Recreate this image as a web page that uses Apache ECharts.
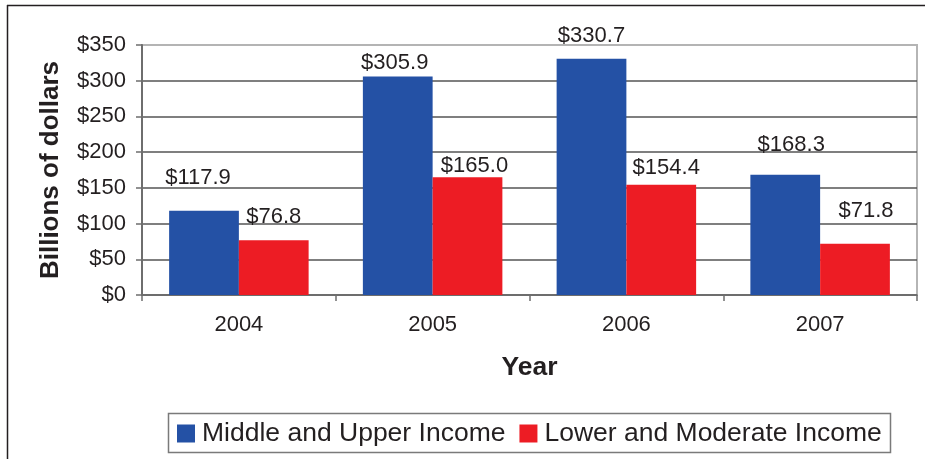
<!DOCTYPE html>
<html>
<head>
<meta charset="utf-8">
<script src="https://cdn.jsdelivr.net/npm/echarts@6/dist/echarts.min.js"></script>
<style>
html,body{margin:0;padding:0;background:#fff;}
#c{width:925px;height:459px;}
</style>
</head>
<body>
<div id="c"></div>
<script>
const years = ['2004', '2005', '2006', '2007'];
const middleUpper = [117.9, 305.9, 330.7, 168.3];
const lowerModerate = [76.8, 165.0, 154.4, 71.8];
const seriesNames = ['Middle and Upper Income', 'Lower and Moderate Income'];
const yTicks = [0, 50, 100, 150, 200, 250, 300, 350];

// label nudges (dx, dy) in pixels, matching the hand-placed labels of the reference
const middleUpperLabelNudge = [[-6, -22], [-3, -3], [0, -12], [6, -19]];
const lowerModerateLabelNudge = [[0, -12], [7, 0], [5, -6], [11, -22]];

const FONT = '"Liberation Sans", Arial, sans-serif';
const TXT = '#231f20';
const BLUE = '#2451a5';
const RED = '#ed1c24';

function build(values, nudges) {
  return values.map((v, i) => ({
    value: v,
    label: { offset: nudges[i] }
  }));
}

const chart = echarts.init(document.getElementById('c'), null, { renderer: 'canvas' });
const gridColors = yTicks.map((t, i) => i === yTicks.length - 1 ? '#b5b5b5' : '#555555');

chart.setOption({
  animation: false,
  backgroundColor: '#ffffff',
  textStyle: { fontFamily: FONT },
  grid: {
    left: 142, top: 45, right: 8, bottom: 164,
    show: true, borderColor: '#b5b5b5', borderWidth: 2, backgroundColor: 'transparent'
  },
  legend: {
    data: seriesNames,
    left: 177,
    top: 420,
    padding: 0,
    itemWidth: 18,
    itemHeight: 18,
    itemGap: 14,
    icon: 'rect',
    textStyle: { fontFamily: FONT, fontSize: 26.5, color: TXT, padding: [0, 0, 0, 2] }
  },
  xAxis: {
    type: 'category',
    data: years,
    boundaryGap: true,
    name: 'Year',
    nameLocation: 'middle',
    nameGap: 59,
    nameTextStyle: { fontFamily: FONT, fontSize: 26.5, fontWeight: 'bold', color: TXT },
    axisLine: { show: true, lineStyle: { color: '#6e6e6e', width: 1.5 } },
    axisTick: { show: true, length: 6, lineStyle: { color: '#6e6e6e', width: 1.5 } },
    axisLabel: { fontFamily: FONT, fontSize: 22, color: TXT, margin: 19 },
    splitLine: { show: false }
  },
  yAxis: {
    type: 'value',
    min: 0,
    max: 350,
    interval: 50,
    name: 'Billions of dollars',
    nameLocation: 'middle',
    nameGap: 78,
    nameRotate: 90,
    nameTextStyle: { fontFamily: FONT, fontSize: 26, fontWeight: 'bold', color: TXT },
    axisLine: { show: true, lineStyle: { color: '#6e6e6e', width: 2 } },
    axisTick: { show: true, length: 6, lineStyle: { color: '#6e6e6e', width: 1.5 } },
    axisLabel: {
      fontFamily: FONT, fontSize: 22, color: TXT, margin: 16,
      formatter: v => '$' + v
    },
    splitLine: { show: true, lineStyle: { color: gridColors, width: 1.5 } }
  },
  series: [
    {
      name: seriesNames[0],
      type: 'bar',
      data: build(middleUpper, middleUpperLabelNudge),
      barGap: '0%',
      barCategoryGap: '28%',
      itemStyle: { color: BLUE },
      label: {
        show: true, position: 'top', distance: 0,
        fontFamily: FONT, fontSize: 22, color: TXT,
        formatter: p => '$' + p.value.toFixed(1)
      }
    },
    {
      name: seriesNames[1],
      type: 'bar',
      data: build(lowerModerate, lowerModerateLabelNudge),
      barGap: '0%',
      barCategoryGap: '28%',
      itemStyle: { color: RED },
      label: {
        show: true, position: 'top', distance: 0,
        fontFamily: FONT, fontSize: 22, color: TXT,
        formatter: p => '$' + p.value.toFixed(1)
      }
    }
  ],
  graphic: [
    { type: 'line', shape: { x1: 7, y1: 5.5, x2: 925, y2: 5.5 }, style: { stroke: '#231f20', lineWidth: 1.5 }, silent: true },
    { type: 'line', shape: { x1: 7.5, y1: 5, x2: 7.5, y2: 459 }, style: { stroke: '#231f20', lineWidth: 1.5 }, silent: true },
    { type: 'rect', shape: { x: 168.5, y: 413.5, width: 722, height: 39 }, style: { fill: 'none', stroke: '#7a7a7a', lineWidth: 1.5 }, silent: true, z: -1 }
  ]
});
</script>
</body>
</html>
